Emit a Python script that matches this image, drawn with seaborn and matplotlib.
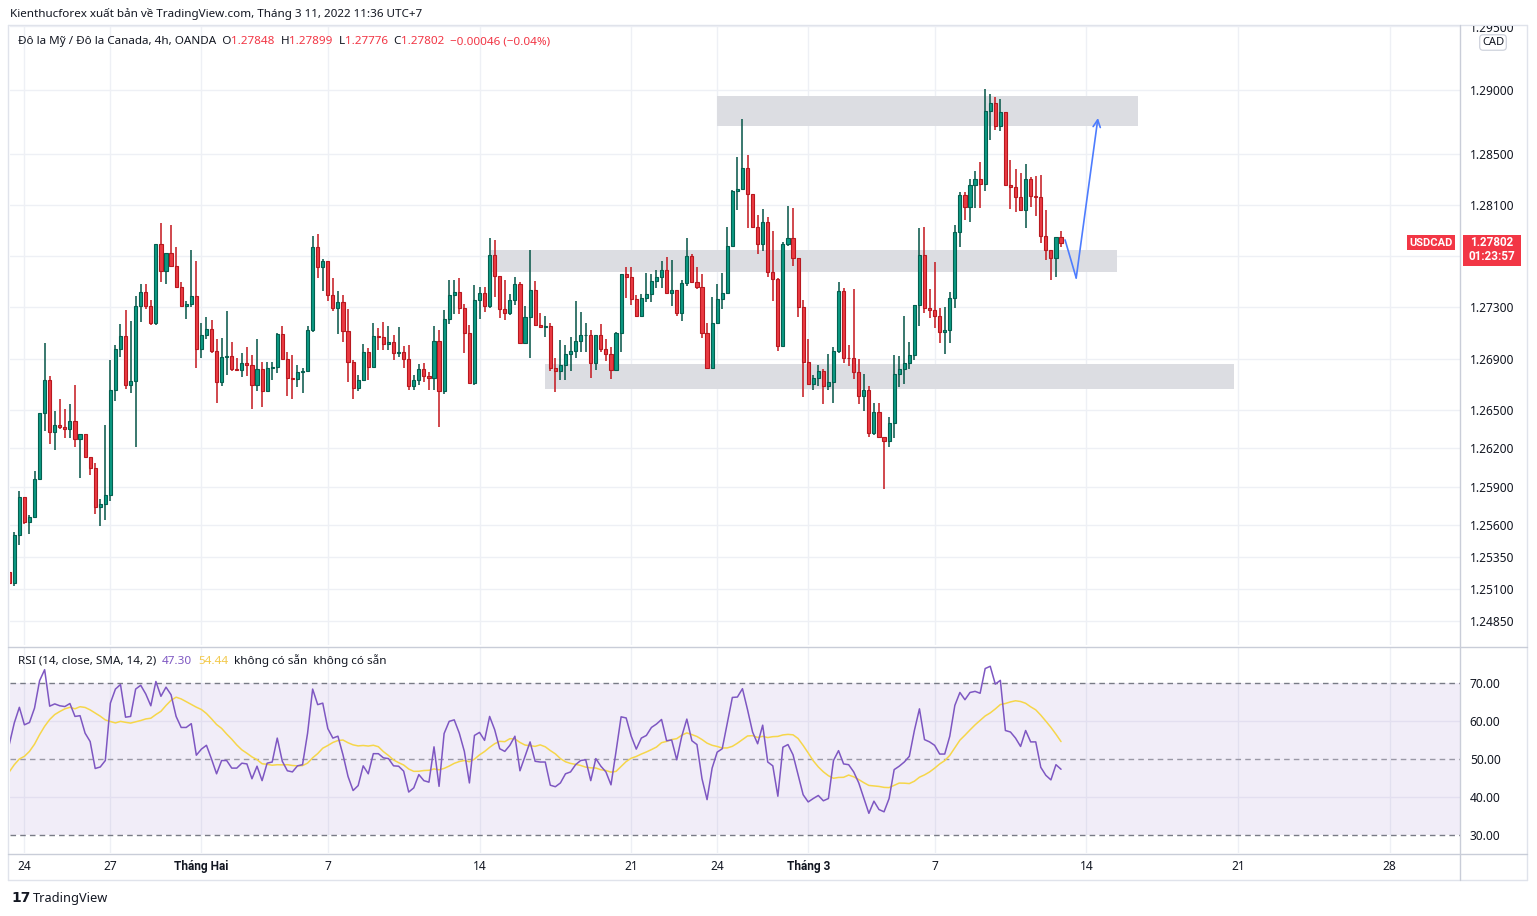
import numpy as np
import pandas as pd
import matplotlib
matplotlib.use("Agg")
import matplotlib.pyplot as plt
import matplotlib.transforms as mtransforms
from matplotlib.patches import Rectangle
import seaborn as sns

# ---------------- data ----------------
first_open = 1.2523
closes = [1.2515, 1.25518, 1.2582, 1.25623, 1.25663, 1.25959, 1.26477, 1.26737, 1.26325, 1.26383,
          1.26367, 1.26349, 1.26414, 1.2627, 1.26312, 1.26131, 1.26045, 1.25738, 1.25762, 1.25833,
          1.26658, 1.26972, 1.27075, 1.26697, 1.26729, 1.2731, 1.27423, 1.2731, 1.27177, 1.27793,
          1.27582, 1.27723, 1.27626, 1.2746, 1.27313, 1.27329, 1.27392, 1.26973, 1.27086, 1.27133,
          1.2696, 1.26715, 1.26916, 1.2692, 1.26816, 1.2681, 1.26866, 1.26848, 1.26694, 1.26822,
          1.26647, 1.2683, 1.26837, 1.27094, 1.26898, 1.26746, 1.26741, 1.26798, 1.26803, 1.27125,
          1.2777, 1.27617, 1.27661, 1.27395, 1.27296, 1.2734, 1.27119, 1.26874, 1.26671, 1.26731,
          1.26949, 1.26835, 1.27075, 1.2707, 1.27017, 1.27028, 1.26944, 1.2695, 1.26897, 1.26689,
          1.26731, 1.26822, 1.26767, 1.26749, 1.27035, 1.2665, 1.27213, 1.274, 1.27419, 1.27296,
          1.27101, 1.2671, 1.27361, 1.27411, 1.27312, 1.27708, 1.27549, 1.27288, 1.27257, 1.27361,
          1.27484, 1.27022, 1.27223, 1.27439, 1.2716, 1.2715, 1.27155, 1.26827, 1.26806, 1.26848,
          1.26939, 1.26957, 1.27041, 1.27082, 1.27088, 1.26866, 1.27082, 1.26978, 1.26939, 1.26809,
          1.27104, 1.2756, 1.27542, 1.2737, 1.27234, 1.27373, 1.27404, 1.27508, 1.2754, 1.27592,
          1.27417, 1.27435, 1.2726, 1.27495, 1.27704, 1.27503, 1.27461, 1.27104, 1.2683, 1.27182,
          1.27365, 1.27412, 1.27782, 1.28213, 1.28226, 1.2839, 1.28187, 1.27931, 1.27795, 1.2797,
          1.27575, 1.27523, 1.27002, 1.278, 1.2784, 1.27689, 1.273, 1.26875, 1.26699, 1.26746,
          1.26803, 1.26686, 1.26717, 1.26961, 1.2743, 1.26909, 1.26902, 1.26793, 1.26606, 1.26653,
          1.26316, 1.26484, 1.26285, 1.26254, 1.26401, 1.26777, 1.26823, 1.26865, 1.26932, 1.27319,
          1.27711, 1.27298, 1.27277, 1.27231, 1.27109, 1.27125, 1.27371, 1.27892, 1.2818, 1.28083,
          1.28254, 1.28301, 1.28267, 1.28835, 1.28895, 1.2872, 1.28825, 1.28259, 1.2824, 1.28162,
          1.28062, 1.28306, 1.2817, 1.28162, 1.27856, 1.27748, 1.27685, 1.27848, 1.27802]
highs = [1.2523, 1.25545, 1.25864, 1.2582, 1.25681, 1.26021, 1.26477, 1.27022, 1.26763, 1.26488,
         1.26582, 1.26509, 1.26543, 1.26692, 1.26312, 1.26312, 1.26131, 1.26087, 1.25801, 1.26383,
         1.26889, 1.27007, 1.27169, 1.27282, 1.27195, 1.27392, 1.27483, 1.27483, 1.27358, 1.278,
         1.27961, 1.27723, 1.27948, 1.27771, 1.27496, 1.27347, 1.27752, 1.27661, 1.27182, 1.27222,
         1.27203, 1.27054, 1.27065, 1.27269, 1.27033, 1.26904, 1.26947, 1.26994, 1.26929, 1.27054,
         1.26877, 1.26877, 1.26877, 1.27104, 1.27159, 1.26955, 1.26929, 1.2685, 1.26824, 1.27159,
         1.27856, 1.27875, 1.27679, 1.27661, 1.27531, 1.27426, 1.274, 1.27288, 1.26887, 1.26775,
         1.27015, 1.26983, 1.27179, 1.2714, 1.27184, 1.27153, 1.27082, 1.27145, 1.26996, 1.27004,
         1.2677, 1.26861, 1.26866, 1.26793, 1.27153, 1.27121, 1.27283, 1.27512, 1.27518, 1.27531,
         1.27327, 1.27166, 1.27473, 1.2746, 1.27458, 1.27843, 1.27825, 1.27549, 1.27512, 1.27406,
         1.27536, 1.27499, 1.27309, 1.27747, 1.2751, 1.27257, 1.27231, 1.27179, 1.26905, 1.27043,
         1.27009, 1.27067, 1.27348, 1.27265, 1.27179, 1.27121, 1.27082, 1.27174, 1.27056, 1.26991,
         1.27112, 1.2756, 1.27618, 1.27618, 1.27399, 1.27409, 1.27568, 1.2756, 1.27591, 1.27665,
         1.27696, 1.27673, 1.27435, 1.27513, 1.2784, 1.27717, 1.27618, 1.2756, 1.27179, 1.27383,
         1.27482, 1.27568, 1.27931, 1.28218, 1.28474, 1.28774, 1.28495, 1.28187, 1.28025, 1.2807,
         1.2801, 1.279, 1.27533, 1.27808, 1.2809, 1.2808, 1.27689, 1.2736, 1.27057, 1.26769,
         1.2685, 1.26816, 1.2694, 1.26995, 1.27502, 1.2745, 1.27008, 1.27445, 1.26896, 1.2678,
         1.26686, 1.26551, 1.26551, 1.2629, 1.26445, 1.26932, 1.26919, 1.2723, 1.27031, 1.27319,
         1.27918, 1.27926, 1.27442, 1.27656, 1.27298, 1.27303, 1.27421, 1.27947, 1.28206, 1.28206,
         1.28306, 1.2837, 1.28437, 1.29008, 1.28966, 1.28942, 1.28929, 1.28825, 1.2845, 1.28379,
         1.28353, 1.28424, 1.28319, 1.28324, 1.28332, 1.28065, 1.27723, 1.27853, 1.27899]
lows = [1.2514, 1.25125, 1.2544, 1.2561, 1.25532, 1.2566, 1.25959, 1.26338, 1.26231, 1.26184,
        1.26352, 1.26278, 1.26278, 1.26207, 1.25964, 1.26131, 1.2599, 1.25689, 1.25589, 1.25636,
        1.25791, 1.26566, 1.26915, 1.26666, 1.26632, 1.26206, 1.2719, 1.27292, 1.27162, 1.27161,
        1.27496, 1.27483, 1.27622, 1.2746, 1.27313, 1.27211, 1.27303, 1.26824, 1.26903, 1.27054,
        1.26942, 1.2655, 1.26688, 1.26772, 1.26806, 1.26803, 1.26759, 1.26767, 1.26503, 1.26647,
        1.26524, 1.26647, 1.2673, 1.26785, 1.26895, 1.2661, 1.26584, 1.26681, 1.26628, 1.26801,
        1.27106, 1.27531, 1.27426, 1.27353, 1.2727, 1.27093, 1.2703, 1.26718, 1.26585, 1.2665,
        1.26723, 1.26736, 1.26835, 1.2697, 1.26965, 1.26965, 1.26887, 1.26913, 1.26827, 1.26652,
        1.26652, 1.26697, 1.26715, 1.26658, 1.26658, 1.26366, 1.26626, 1.27171, 1.27249, 1.27249,
        1.26944, 1.2671, 1.26692, 1.2721, 1.27265, 1.27296, 1.27382, 1.27218, 1.272, 1.27244,
        1.27317, 1.27022, 1.27017, 1.26908, 1.27153, 1.27147, 1.27067, 1.26806, 1.26639, 1.26736,
        1.26736, 1.26806, 1.26905, 1.26952, 1.26952, 1.26749, 1.26814, 1.26952, 1.26879, 1.26738,
        1.26809, 1.26955, 1.27378, 1.2732, 1.27226, 1.27226, 1.27346, 1.27346, 1.27451, 1.27456,
        1.27417, 1.27312, 1.27234, 1.27195, 1.27469, 1.27503, 1.27443, 1.27065, 1.26824, 1.26824,
        1.27174, 1.27286, 1.27404, 1.27782, 1.28061, 1.28226, 1.27921, 1.27921, 1.27722, 1.2774,
        1.27536, 1.27352, 1.26963, 1.27002, 1.2778, 1.27624, 1.27222, 1.26601, 1.26699, 1.26655,
        1.26686, 1.26544, 1.26653, 1.26557, 1.26948, 1.2687, 1.26845, 1.26741, 1.26542, 1.26492,
        1.26285, 1.26305, 1.26285, 1.25883, 1.26207, 1.2628, 1.26681, 1.26704, 1.26816, 1.26892,
        1.27159, 1.27258, 1.27219, 1.27141, 1.27023, 1.26936, 1.27023, 1.27298, 1.27769, 1.27984,
        1.27966, 1.28075, 1.28075, 1.28209, 1.28607, 1.28686, 1.28678, 1.28259, 1.2807, 1.28044,
        1.28062, 1.27921, 1.28083, 1.28018, 1.27801, 1.27672, 1.27513, 1.27541, 1.27776]

rsi = [53.8, 59.5, 63.6, 59.0, 59.6, 63.4, 70.6, 73.5, 63.9, 64.5,
       64.0, 63.8, 64.6, 61.2, 61.4, 56.8, 54.6, 47.5, 47.9, 49.6,
       64.7, 68.4, 69.6, 61.0, 61.2, 68.4, 69.4, 67.1, 64.0, 70.4,
       66.5, 68.9, 66.9, 61.2, 58.3, 58.3, 59.3, 51.0, 52.6, 53.6,
       50.0, 46.1, 49.6, 49.6, 47.6, 47.6, 48.9, 48.7, 44.8, 48.1,
       44.3, 48.9, 49.2, 55.5, 49.4, 46.9, 46.6, 48.2, 48.5, 56.8,
       68.4, 64.3, 64.7, 58.0, 55.5, 56.0, 51.1, 45.4, 41.7, 43.0,
       48.2, 46.1, 51.4, 51.4, 50.3, 50.1, 48.2, 48.1, 46.8, 41.3,
       42.4, 45.9, 44.3, 43.9, 53.2, 42.8, 56.7, 59.9, 60.3, 56.8,
       52.0, 43.7, 56.2, 57.0, 54.9, 61.2, 57.7, 52.7, 52.0, 53.6,
       56.0, 46.9, 50.7, 54.5, 49.4, 49.2, 49.2, 43.1, 42.7, 43.7,
       46.1, 46.6, 48.5, 49.6, 49.8, 44.3, 50.1, 48.1, 46.6, 43.2,
       52.0, 61.1, 60.8, 56.0, 52.6, 55.5, 56.2, 58.3, 59.2, 60.4,
       54.8, 55.0, 49.8, 56.0, 60.5, 54.8, 53.8, 44.8, 39.3, 47.6,
       51.8, 52.7, 59.5, 66.2, 66.3, 68.5, 63.0, 57.1, 54.0, 58.9,
       49.2, 48.2, 40.2, 53.1, 53.8, 51.1, 45.9, 40.6, 38.7, 39.6,
       40.4, 39.0, 39.6, 49.6, 52.2, 48.7, 48.5, 46.6, 43.7, 39.7,
       35.7, 38.9, 36.7, 36.1, 39.6, 47.2, 48.1, 49.2, 50.7, 57.5,
       63.2, 55.1, 54.5, 53.6, 51.3, 51.3, 56.0, 64.1, 67.5, 65.6,
       67.5, 67.8, 67.3, 73.8, 74.4, 69.7, 70.7, 57.5, 57.1, 55.5,
       53.3, 57.5, 54.5, 54.5, 47.8, 45.7, 44.5, 48.5, 47.3]
# first values of the RSI moving average (history before the visible range)
rsi_ma_head = [46.6, 48.5, 50.0, 50.7, 52.0, 53.9, 56.4, 58.6, 60.4, 61.7, 62.5, 63.2, 63.6]

# date ticks (candle index) and labels
date_ticks = [3, 20, 38, 63, 93, 123, 140, 158, 183, 213, 243, 273]
date_labels = ["24", "27", "Tháng Hai", "7", "14", "21", "24", "Tháng 3", "7", "14", "21", "28"]
price_ticks = [1.2485, 1.2510, 1.2535, 1.2560, 1.2590, 1.2620, 1.2650, 1.2690, 1.2730, 1.2810, 1.2850, 1.2900]
price_grid_extra = [1.2770, 1.2950]
rsi_ticks = [70, 60, 50, 40, 30]

# support / resistance zones: (start idx, end idx, low price, high price)
zone_start = [140.0, 95.3, 106.0]
zone_end = [223.3, 219.1, 242.2]
zone_low = [1.2872, 1.27575, 1.26665]
zone_high = [1.2895, 1.27752, 1.26858]
# projected path (idx, price)
path_x = [208.8, 211.0, 215.3]
path_y = [1.27828, 1.27531, 1.28781]

last_price = 1.27802

# ---------------- build table ----------------
n = len(closes)
opens = [first_open] + closes[:-1]
opens[-1] = 1.27848
df = pd.DataFrame({"idx": np.arange(n), "open": opens, "high": highs, "low": lows, "close": closes})
df["high"] = df[["high", "open", "close"]].max(axis=1)
df["low"] = df[["low", "open", "close"]].min(axis=1)
df["up"] = df["close"] >= df["open"]

rsi_s = pd.Series(rsi)
rsi_ma = rsi_s.rolling(14).mean()
rsi_ma.iloc[:len(rsi_ma_head)] = rsi_ma_head
rdf = pd.DataFrame({"idx": np.arange(n), "rsi": rsi_s, "ma": rsi_ma})

# ---------------- style ----------------
sns.set_theme(style="white")
plt.rcParams["font.family"] = ["Noto Sans", "DejaVu Sans"]
BOLD_FAM = ["Roboto", "DejaVu Sans"]
TXT = "#131722"
GRID = "#eef0f5"
UP_F, UP_E, UP_W = "#0c9a83", "#046050", "#045446"
DN_F, DN_E, DN_W = "#ea3a42", "#b8181f", "#c4161d"

W, H = 1537, 916
fig = plt.figure(figsize=(W / 100, H / 100), dpi=100)
fig.patch.set_facecolor("white")


def fx(px):
    return px / W


def fy(py):
    return 1 - py / H


ax = fig.add_axes([fx(10), fy(645), (1460 - 10) / W, (645 - 25) / H])
ax2 = fig.add_axes([fx(10), fy(853), (1460 - 10) / W, (853 - 648) / H])

XMIN, XMAX = 0.15, 286.9
for a in (ax, ax2):
    a.set_xlim(XMIN, XMAX)
    a.set_facecolor("white")
    for s in a.spines.values():
        s.set_visible(False)
    for t in date_ticks:
        a.axvline(t, color=GRID, lw=1, zorder=0)

ax.set_ylim(1.24662, 1.29508)
for p in price_ticks + price_grid_extra:
    ax.axhline(p, color=GRID, lw=1, zorder=0)

# zones
for x0, x1, y0, y1 in zip(zone_start, zone_end, zone_low, zone_high):
    ax.add_patch(Rectangle((x0, y0), x1 - x0, y1 - y0, facecolor="#dcdde2", edgecolor="none", zorder=1))

# candles
wick_col = np.where(df["up"], UP_W, DN_W)
ax.vlines(df["idx"], df["low"], df["high"], colors=wick_col, lw=1.1, zorder=2)
body_bot = df[["open", "close"]].min(axis=1)
body_h = (df["close"] - df["open"]).abs().clip(lower=0.00003)
ax.bar(df["idx"], body_h, bottom=body_bot, width=0.62,
       color=np.where(df["up"], UP_F, DN_F), edgecolor=np.where(df["up"], UP_E, DN_E),
       linewidth=0.8, zorder=3)

# projected path
ax.plot(path_x[:2], path_y[:2], color="#4d7cfe", lw=1.2, zorder=4)
ax.annotate("", xy=(path_x[2], path_y[2]), xytext=(path_x[1], path_y[1]),
            arrowprops=dict(arrowstyle="->", color="#4d7cfe", lw=1.2, mutation_scale=13,
                            shrinkA=0, shrinkB=0), zorder=4)

# price axis
ax.yaxis.tick_right()
ax.set_yticks(price_ticks)
ax.set_yticklabels([f"{p:.5f}" for p in price_ticks])
ax.tick_params(axis="y", length=0, pad=7, labelsize=8.6, labelcolor=TXT)
ax.set_xticks([])

# RSI pane
ax2.set_ylim(25.26, 79.21)
ax2.axhspan(30, 70, color="#7e57c2", alpha=0.1, lw=0, zorder=0)
for v in (60, 40):
    ax2.axhline(v, color="#e3dff0", lw=1, zorder=1)
for v in (70, 30):
    ax2.axhline(v, color="#787b86", lw=1, ls=(0, (4, 3)), zorder=1)
ax2.axhline(50, color="#9a98a6", lw=1, ls=(0, (4, 3)), zorder=1)
sns.lineplot(data=rdf, x="idx", y="ma", ax=ax2, color="#f6d64a", lw=1.1, zorder=3)
sns.lineplot(data=rdf, x="idx", y="rsi", ax=ax2, color="#7e57c2", lw=1.1, zorder=4)
ax2.set_xlabel("")
ax2.set_ylabel("")
ax2.yaxis.tick_right()
ax2.set_yticks(rsi_ticks)
ax2.set_yticklabels([f"{v:.2f}" for v in rsi_ticks])
ax2.tick_params(axis="y", length=0, pad=7, labelsize=8.6, labelcolor=TXT)
ax2.set_xticks(date_ticks)
ax2.set_xticklabels([""] * len(date_ticks))
ax2.tick_params(axis="x", length=0)
xtr = mtransforms.blended_transform_factory(ax2.transData, fig.transFigure)
for t, lab in zip(date_ticks, date_labels):
    if lab.startswith("Tháng"):
        ax2.text(t, fy(866.5), lab, transform=xtr, ha="center", va="center", fontsize=8.6, color=TXT,
                 fontweight="bold", family=BOLD_FAM, clip_on=False)
    else:
        ax2.text(t, fy(866.5), lab, transform=xtr, ha="center", va="center", fontsize=8.6, color=TXT,
                 clip_on=False)

# frame lines
LINE = "#e0e3eb"
def fline(x0, y0, x1, y1, c=LINE, lw=1):
    fig.add_artist(plt.Line2D([fx(x0), fx(x1)], [fy(y0), fy(y1)], color=c, lw=lw))

fline(8, 25, 1527, 25)
fline(8, 25, 8, 880)
fline(1527, 25, 1527, 880)
fline(8, 880, 1527, 880)
fline(8, 646.5, 1527, 646.5, c="#c9cdd8")
fline(8, 853.5, 1527, 853.5, c="#c9cdd8")
fline(1460, 25, 1460, 880, c="#c9cdd8")

# last price labels
tr = mtransforms.blended_transform_factory(fig.transFigure, ax.transData)
ax.add_patch(Rectangle((fx(1463), last_price - 0.00175), (1521 - 1463) / W, 0.00240,
                       transform=tr, facecolor="#f23645", edgecolor="none", clip_on=False, zorder=6))
fig.text(fx(1492), fy(242.5), f"{last_price:.5f}", color="white", fontsize=8.4, fontweight="bold",
         family=BOLD_FAM, ha="center", va="center")
fig.text(fx(1492), fy(256.5), "01:23:57", color="white", fontsize=8.4, fontweight="bold",
         family=BOLD_FAM, ha="center", va="center")
fig.text(fx(1431), fy(242.5), "USDCAD", color="white", fontsize=8.0, fontweight="bold",
         family=BOLD_FAM, ha="center", va="center",
         bbox=dict(boxstyle="square,pad=0.25", facecolor="#f23645", edgecolor="none"))
fig.text(fx(1493), fy(42.5), "CAD", color=TXT, fontsize=8, ha="center", va="center",
         bbox=dict(boxstyle="round,pad=0.2,rounding_size=0.3", facecolor="white", edgecolor="#c9cdd8", lw=0.8))
# top partially hidden label
t95 = fig.text(fx(1470), fy(28), "1.29500", color=TXT, fontsize=8.6, ha="left", va="center")
t95.set_clip_box(mtransforms.Bbox.from_extents(0, fy(916) * H, W, fy(25.5) * H))

# header texts
renderer = fig.canvas.get_renderer()


def seq_text(x_px, y_px, pieces, size):
    x = x_px
    for s, c, wgt in pieces:
        t = fig.text(fx(x), fy(y_px), s, color=c, fontsize=size, fontweight=wgt, ha="left", va="center")
        x += t.get_window_extent(renderer=renderer).width


fig.text(fx(10), fy(14), "Kienthucforex xuất bản về TradingView.com, Tháng 3 11, 2022 11:36 UTC+7",
         color=TXT, fontsize=8.4, ha="left", va="center")
RED = "#f23645"
seq_text(18, 41.5, [("Đô la Mỹ / Đô la Canada, 4h, OANDA  O", TXT, "normal"), ("1.27848", RED, "normal"),
                    ("  H", TXT, "normal"), ("1.27899", RED, "normal"),
                    ("  L", TXT, "normal"), ("1.27776", RED, "normal"),
                    ("  C", TXT, "normal"), ("1.27802", RED, "normal"),
                    ("  −0.00046 (−0.04%)", RED, "normal")], 8.4)
seq_text(18, 661, [("RSI (14, close, SMA, 14, 2)  ", TXT, "normal"), ("47.30", "#7e57c2", "normal"),
                   ("  ", TXT, "normal"), ("54.44", "#f2c94c", "normal"),
                   ("  không có sẵn  không có sẵn", TXT, "normal")], 8.4)
# footer logo
fig.text(fx(11), fy(898.5), "17", color=TXT, fontsize=10, fontweight="bold", ha="left", va="center",
         family="DejaVu Sans")
fig.text(fx(33), fy(898.5), "TradingView", color=TXT, fontsize=9.2, ha="left", va="center")

fig.savefig("out.png", dpi=100, facecolor="white")
